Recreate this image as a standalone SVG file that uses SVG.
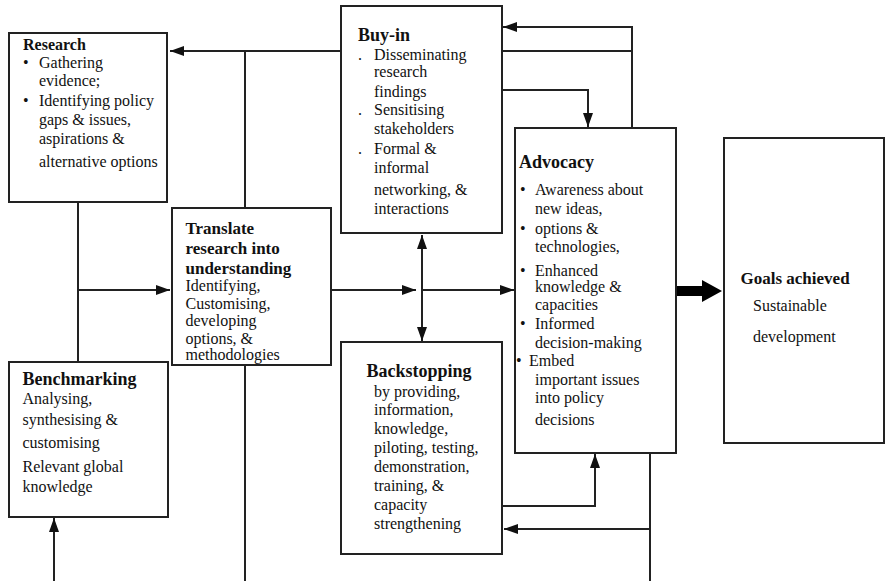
<svg xmlns="http://www.w3.org/2000/svg" width="885" height="581" viewBox="0 0 885 581">
<style>
.box{fill:#fff;stroke:#222;stroke-width:2}
.ln{fill:none;stroke:#222;stroke-width:2}
.arr{fill:none;stroke:#222;stroke-width:2;marker-end:url(#ah)}
text{font-family:"Liberation Serif","Times New Roman",serif;fill:#111}
.t{font-weight:bold;font-size:16px}
.tl{font-weight:bold;font-size:18px}
.b{font-size:16px}
</style>
<defs>
<marker id="ah" markerUnits="userSpaceOnUse" markerWidth="14" markerHeight="10" refX="14" refY="5" orient="auto-start-reverse">
<path d="M0,0 L14,5 L0,10 z" fill="#111"/>
</marker>
</defs>
<rect width="885" height="581" fill="#fff"/>
<g id="connectors">
<path class="arr" d="M341,51 H170"/>
<path class="ln" d="M245,51 V208"/>
<path class="ln" d="M78,202 V362"/>
<path class="arr" d="M78,290 H170"/>
<path class="ln" d="M245,365 V581"/>
<path class="arr" d="M54,581 V518"/>
<path class="arr" d="M331,290 H416"/>
<path class="arr" d="M422,290 H514"/>
<path class="arr" d="M422,235 V341" style="marker-start:url(#ah)"/>
<path class="arr" d="M632,128 V27 H503"/>
<path class="ln" d="M502,51 H632"/>
<path class="arr" d="M502,90 H588 V127"/>
<path class="ln" d="M650,453 V581"/>
<path class="arr" d="M650,529 H504"/>
<path class="arr" d="M502,506 H595 V454"/>
<polygon points="676,286 702,286 702,280 722,291 702,302 702,296 676,296" fill="#000"/>
</g>
<g id="research">
<rect class="box" x="9" y="33" width="158" height="169"/>
<text class="t" x="23" y="50">Research</text>
<text class="b" x="23" y="68">•</text>
<text class="b" x="39" y="68">Gathering</text>
<text class="b" x="39" y="86">evidence;</text>
<text class="b" x="23" y="106">•</text>
<text class="b" x="39" y="106">Identifying policy</text>
<text class="b" x="39" y="124.5">gaps &amp; issues,</text>
<text class="b" x="39" y="144">aspirations &amp;</text>
<text class="b" x="39" y="166.5">alternative options</text>
</g>
<g id="buyin">
<rect class="box" x="341" y="6" width="161" height="227"/>
<text class="tl" x="358" y="40.5">Buy-in</text>
<text class="b" x="358" y="59.5">.</text>
<text class="b" x="374" y="59.5">Disseminating</text>
<text class="b" x="374" y="77">research</text>
<text class="b" x="374" y="96.5">findings</text>
<text class="b" x="358" y="115">.</text>
<text class="b" x="374" y="115">Sensitising</text>
<text class="b" x="374" y="134">stakeholders</text>
<text class="b" x="358" y="153.5">.</text>
<text class="b" x="374" y="153.5">Formal &amp;</text>
<text class="b" x="374" y="172.5">informal</text>
<text class="b" x="374" y="195">networking, &amp;</text>
<text class="b" x="374" y="213.5">interactions</text>
</g>
<g id="translate">
<rect class="box" x="172" y="208" width="159" height="157"/>
<text class="t" x="185.5" y="234" style="font-size:17px">Translate</text>
<text class="t" x="185.5" y="253.5" style="font-size:17px">research into</text>
<text class="t" x="185.5" y="274" style="font-size:17px">understanding</text>
<text class="b" x="185.5" y="290.5">Identifying,</text>
<text class="b" x="185.5" y="309">Customising,</text>
<text class="b" x="185.5" y="326">developing</text>
<text class="b" x="185.5" y="343.5">options, &amp;</text>
<text class="b" x="185.5" y="360">methodologies</text>
</g>
<g id="advocacy">
<rect class="box" x="515" y="128" width="161" height="325"/>
<text class="tl" x="519" y="167.5">Advocacy</text>
<text class="b" x="520" y="195">•</text>
<text class="b" x="535" y="195">Awareness about</text>
<text class="b" x="535" y="213.5">new ideas,</text>
<text class="b" x="520" y="233.5">•</text>
<text class="b" x="535" y="233.5">options &amp;</text>
<text class="b" x="535" y="252">technologies,</text>
<text class="b" x="520" y="276">•</text>
<text class="b" x="535" y="276">Enhanced</text>
<text class="b" x="535" y="292">knowledge &amp;</text>
<text class="b" x="535" y="310">capacities</text>
<text class="b" x="520" y="328.5">•</text>
<text class="b" x="535" y="328.5">Informed</text>
<text class="b" x="535" y="347.5">decision-making</text>
<text class="b" x="516" y="366">•</text>
<text class="b" x="529" y="366">Embed</text>
<text class="b" x="535" y="385">important issues</text>
<text class="b" x="535" y="403">into policy</text>
<text class="b" x="535" y="425">decisions</text>
</g>
<g id="benchmarking">
<rect class="box" x="9" y="362" width="159" height="155"/>
<text class="tl" x="22.5" y="384.5">Benchmarking</text>
<text class="b" x="22.5" y="404">Analysing,</text>
<text class="b" x="22.5" y="425">synthesising &amp;</text>
<text class="b" x="22.5" y="447.5">customising</text>
<text class="b" x="22.5" y="471.5">Relevant global</text>
<text class="b" x="22.5" y="491.5">knowledge</text>
</g>
<g id="backstopping">
<rect class="box" x="341" y="342" width="161" height="212"/>
<text class="tl" x="366.5" y="376.5">Backstopping</text>
<text class="b" x="374" y="396.5">by providing,</text>
<text class="b" x="374" y="415">information,</text>
<text class="b" x="374" y="434">knowledge,</text>
<text class="b" x="374" y="452.5">piloting, testing,</text>
<text class="b" x="374" y="471.5">demonstration,</text>
<text class="b" x="374" y="490.5">training, &amp;</text>
<text class="b" x="374" y="509.5">capacity</text>
<text class="b" x="374" y="528.5">strengthening</text>
</g>
<g id="goals">
<rect class="box" x="724" y="138" width="160" height="305"/>
<text class="t" x="740.5" y="284" style="font-size:17px">Goals achieved</text>
<text class="b" x="753" y="311">Sustainable</text>
<text class="b" x="753" y="342">development</text>
</g>
</svg>
